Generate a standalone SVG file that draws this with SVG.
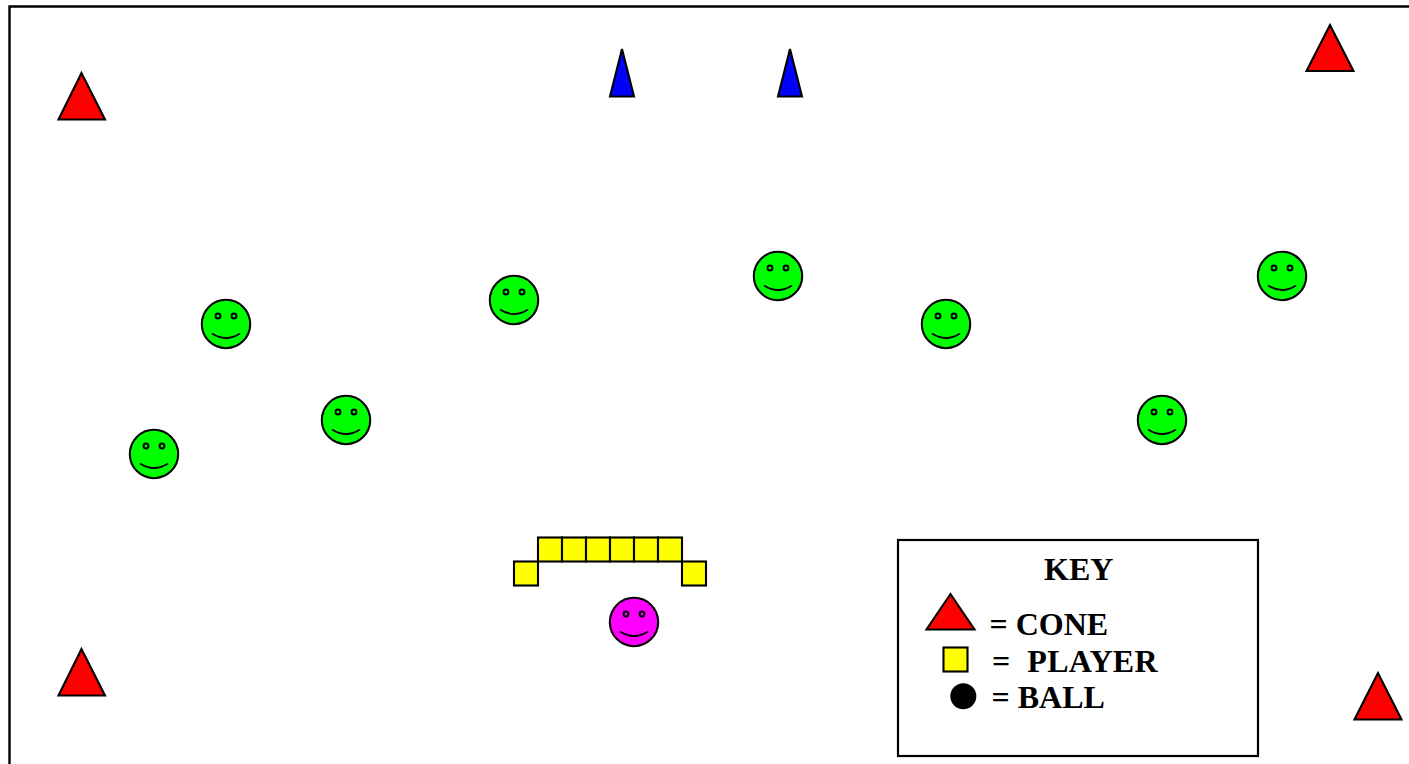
<svg xmlns="http://www.w3.org/2000/svg" width="1409" height="764" viewBox="0 0 1409 764">
<style>
.s{stroke:#000;stroke-width:2.1;stroke-linejoin:miter}
.cone{fill:#f00}.blue{fill:#00f}.sq{fill:#ff0}
.g{fill:#0f0}.m{fill:#f0f}
.f{fill:none;stroke:#000;stroke-width:2}
text{font-family:"Liberation Serif","Times New Roman",serif;font-weight:bold;font-size:32px;fill:#000;white-space:pre}
</style>
<defs>
<g id="detail">
<circle class="f" cx="-8" cy="-8" r="2.400"/>
<circle class="f" cx="8" cy="-8" r="2.400"/>
<path class="f" d="M-14 9.500Q0 18.500 14 9.500"/>
</g>
</defs>
<rect width="1409" height="764" fill="#fff"/>
<path id="frame" d="M9.500 764V6.500H1409" fill="none" stroke="#000" stroke-width="2.400"/>
<g id="cone-1"><polygon class="s cone" points="81.500,73 58.500,119.500 105,119.500"/></g>
<g id="cone-2"><polygon class="s cone" points="1330,25 1306.500,71 1353.500,71"/></g>
<g id="cone-3"><polygon class="s cone" points="81.500,649 58.500,695.500 105,695.500"/></g>
<g id="cone-4"><polygon class="s cone" points="1378,673 1354.500,719.500 1401.500,719.500"/></g>
<g id="goal-1"><polygon class="s blue" points="622,49 610,96.500 634,96.500"/></g>
<g id="goal-2"><polygon class="s blue" points="790,49 778,96.500 802,96.500"/></g>
<g id="face-1" transform="translate(226 324)"><circle class="s g" r="24.200"/><use href="#detail"/></g>
<g id="face-2" transform="translate(514 300)"><circle class="s g" r="24.200"/><use href="#detail"/></g>
<g id="face-3" transform="translate(778 276)"><circle class="s g" r="24.200"/><use href="#detail"/></g>
<g id="face-4" transform="translate(946 324)"><circle class="s g" r="24.200"/><use href="#detail"/></g>
<g id="face-5" transform="translate(1282 276)"><circle class="s g" r="24.200"/><use href="#detail"/></g>
<g id="face-6" transform="translate(346 420)"><circle class="s g" r="24.200"/><use href="#detail"/></g>
<g id="face-7" transform="translate(1162 420)"><circle class="s g" r="24.200"/><use href="#detail"/></g>
<g id="face-8" transform="translate(154 454)"><circle class="s g" r="24.200"/><use href="#detail"/></g>
<g id="face-keeper" transform="translate(634 622)"><circle class="s m" r="24.200"/><use href="#detail"/></g>
<g id="wall">
<rect class="s sq" x="538" y="537.500" width="24" height="24"/>
<rect class="s sq" x="562" y="537.500" width="24" height="24"/>
<rect class="s sq" x="586" y="537.500" width="24" height="24"/>
<rect class="s sq" x="610" y="537.500" width="24" height="24"/>
<rect class="s sq" x="634" y="537.500" width="24" height="24"/>
<rect class="s sq" x="658" y="537.500" width="24" height="24"/>
<rect class="s sq" x="514" y="561.500" width="24" height="24"/>
<rect class="s sq" x="682" y="561.500" width="24" height="24"/>
</g>
<g id="key">
<rect x="898" y="540" width="360" height="216" fill="#fff" stroke="#000" stroke-width="2.200"/>
<text x="1044" y="580">KEY</text>
<polygon class="s cone" points="950.500,594 926.500,629.500 974.500,629.500"/>
<text x="989.500" y="635">= CONE</text>
<rect class="s sq" x="943.500" y="647.500" width="24" height="24"/>
<text x="992" y="672" xml:space="preserve" letter-spacing=".35">=  PLAYER</text>
<circle cx="963.300" cy="696.300" r="13" fill="#000"/>
<text x="991.500" y="708">= BALL</text>
</g>
<g id="connectors"/>
</svg>
